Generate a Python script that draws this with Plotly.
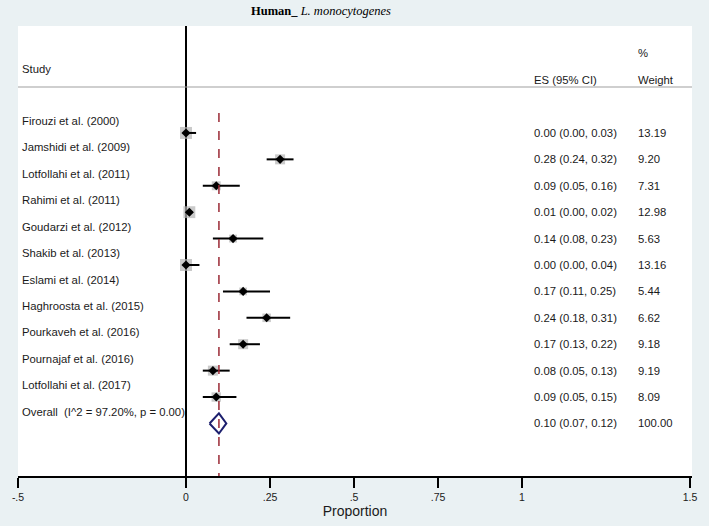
import plotly.graph_objects as go

studies = ["Firouzi et al. (2000)", "Jamshidi et al. (2009)", "Lotfollahi et al. (2011)",
           "Rahimi et al. (2011)", "Goudarzi et al. (2012)", "Shakib et al. (2013)",
           "Eslami et al. (2014)", "Haghroosta et al. (2015)", "Pourkaveh et al. (2016)",
           "Pournajaf et al. (2016)", "Lotfollahi et al. (2017)"]
es = [0.00, 0.28, 0.09, 0.01, 0.14, 0.00, 0.17, 0.24, 0.17, 0.08, 0.09]
lo = [0.00, 0.24, 0.05, 0.00, 0.08, 0.00, 0.11, 0.18, 0.13, 0.05, 0.05]
hi = [0.03, 0.32, 0.16, 0.02, 0.23, 0.04, 0.25, 0.31, 0.22, 0.13, 0.15]
weights = [13.19, 9.20, 7.31, 12.98, 5.63, 13.16, 5.44, 6.62, 9.18, 9.19, 8.09]
overall_label = "Overall  (I^2 = 97.20%, p = 0.00)"
overall_es, overall_lo, overall_hi, overall_w = 0.098, 0.07, 0.12, 100.00
tick_vals = [-0.5, 0, 0.25, 0.5, 0.75, 1, 1.5]
tick_text = ["-.5", "0", ".25", ".5", ".75", "1", "1.5"]

n = len(studies)
rows = list(range(n))
ov_row = n

FONT = "Liberation Sans, Arial, sans-serif"
TXT = "#1a1a1a"
BG = "#eaf1f3"

fig = go.Figure()

# weight boxes
fig.add_trace(go.Scatter(
    x=es, y=rows, mode="markers",
    marker=dict(symbol="square", size=[3.3 * w ** 0.5 for w in weights],
                color="#b3b3b3", line=dict(width=0)),
    hoverinfo="skip", showlegend=False))

# CI lines
cx, cy = [], []
for i in rows:
    cx += [lo[i], hi[i], None]
    cy += [i, i, None]
fig.add_trace(go.Scatter(x=cx, y=cy, mode="lines",
                         line=dict(color="black", width=2),
                         hoverinfo="skip", showlegend=False))

# point estimates
fig.add_trace(go.Scatter(x=es, y=rows, mode="markers",
                         marker=dict(symbol="diamond", size=7, color="black"),
                         hoverinfo="skip", showlegend=False))

# overall diamond
h = 0.38
fig.add_trace(go.Scatter(
    x=[overall_lo, overall_es, overall_hi, overall_es, overall_lo],
    y=[ov_row, ov_row - h, ov_row, ov_row + h, ov_row],
    mode="lines", line=dict(color="#1c1f6e", width=2),
    hoverinfo="skip", showlegend=False))

y_top = 12.99
y_bot = -4.05

shapes = [
    dict(type="line", xref="x", yref="paper", x0=0, x1=0, y0=0, y1=1,
         line=dict(color="black", width=2), layer="below"),
    dict(type="line", xref="x", yref="y", x0=overall_es, x1=overall_es,
         y0=-0.76, y1=y_top, line=dict(color="#9b2a35", width=1.5, dash="dash")),
    dict(type="line", xref="paper", yref="y", x0=0, x1=1, y0=-1.74, y1=-1.74,
         line=dict(color="#a0a0a0", width=1.2)),
]

ann = []
def t(x, y, s, size=11.3):
    ann.append(dict(x=x, y=y, xref="x", yref="y", text=s, showarrow=False,
                    xanchor="left", yanchor="middle",
                    font=dict(family=FONT, size=size, color=TXT)))

x_lab = -0.493
x_es = 1.031
x_w = 1.338
for i in rows:
    t(x_lab, i - 0.45, studies[i])
    t(x_es, i, f"{es[i]:.2f} ({lo[i]:.2f}, {hi[i]:.2f})")
    t(x_w, i, f"{weights[i]:.2f}")
t(x_lab, ov_row - 0.45, overall_label)
t(x_es, ov_row, f"{overall_es:.2f} ({overall_lo:.2f}, {overall_hi:.2f})")
t(x_w, ov_row, f"{overall_w:.2f}")

t(x_lab, -2.42, "Study")
t(x_w, -3.03, "%")
t(x_es, -2.0, "ES (95% CI)")
t(x_w, -2.0, "Weight")

ann.append(dict(x=0.449, y=1 + 15 / 450, xref="paper", yref="paper",
                text="<b>Human_</b> <i>L. monocytogenes</i>", showarrow=False,
                xanchor="center", yanchor="middle",
                font=dict(family="Liberation Serif, Times New Roman, serif",
                          size=12.5, color="black")))

fig.update_layout(
    width=709, height=526,
    margin=dict(l=15, r=15, t=26, b=50),
    paper_bgcolor=BG, plot_bgcolor="white",
    shapes=shapes, annotations=ann,
    xaxis=dict(range=[-0.5, 1.5059], tickvals=tick_vals, ticktext=tick_text,
               showgrid=False, zeroline=False, showline=True,
               linecolor="black", linewidth=2, ticks="outside",
               ticklen=10, tickwidth=2, tickcolor="black",
               tickfont=dict(family=FONT, size=10.5, color=TXT),
               title=dict(text="Proportion", standoff=2,
                          font=dict(family=FONT, size=14, color=TXT))),
    yaxis=dict(range=[y_top, y_bot], showgrid=False, zeroline=False,
               showticklabels=False, showline=False),
)

fig.write_html("out.html", config={"displayModeBar": False},
               post_script="document.body.style.margin='0';"
                           "document.body.style.background='" + BG + "';")
